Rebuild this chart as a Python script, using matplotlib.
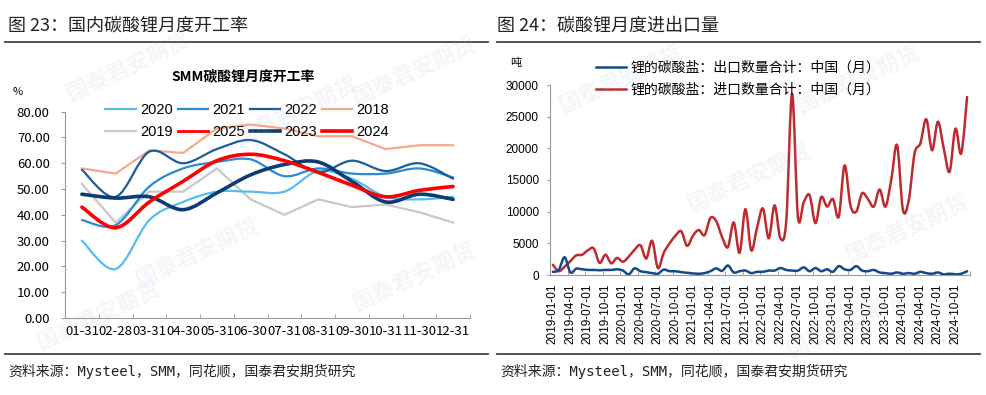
import matplotlib
matplotlib.use("Agg")
import matplotlib.pyplot as plt
from matplotlib.path import Path
from matplotlib.patches import PathPatch
from matplotlib.lines import Line2D
import pandas as pd

plt.rcParams['font.family'] = ['Noto Sans CJK SC', 'DejaVu Sans']

# ---- left chart: monthly operating rate (%)
cats = ["01-31", "02-28", "03-31", "04-30", "05-31", "06-30",
        "07-31", "08-31", "09-30", "10-31", "11-30", "12-31"]
r2018 = [58, 56, 65, 64, 73.5, 75, 73.5, 70.5, 70.5, 65.5, 67, 67]
r2019 = [52, 37, 49, 49, 58, 46, 40, 46, 43, 44, 41, 37]
r2020 = [30, 19, 38, 45, 49, 49, 49, 57, 54, 47, 46, 47]
r2021 = [38, 36, 51, 58, 60.5, 61.5, 55, 58, 56, 56, 58, 54.5]
r2022 = [57.5, 47, 64.5, 60, 65.5, 69, 63.5, 56.5, 61, 57, 60, 54]
r2023 = [48, 46.5, 47, 42, 48.5, 55.5, 59.5, 60.5, 53, 45, 48, 46]
r2024 = [43, 35, 45, 53, 61, 63.5, 61, 56.5, 51.5, 47, 49.5, 51]
r2025 = []

# ---- right chart: lithium carbonate export / import (t), 2019-01 .. 2024-12
export_t = [500, 800, 2800, 400, 1000, 900, 800, 800, 750, 800, 800, 900,
            700, 100, 1050, 600, 450, 300, 200, 850, 600, 600, 450, 350,
            250, 200, 300, 600, 1050, 650, 1500, 400, 600, 700, 300, 500,
            500, 700, 700, 1100, 800, 700, 700, 1200, 600, 1100, 600, 900,
            500, 1400, 900, 800, 1400, 700, 600, 800, 400, 300, 200, 400,
            200, 300, 200, 500, 300, 200, 400, 100, 200, 100, 200, 600]
import_t = [1600, 600, 1300, 2200, 3100, 3200, 3900, 4200, 1900, 3200, 1850, 2700,
            2100, 2900, 4000, 4700, 2600, 5400, 1100, 3500, 5000, 6200, 6900, 4600,
            6200, 7100, 6300, 9000, 8500, 6000, 4400, 8300, 3500, 10400, 3900, 7500,
            10500, 5800, 11000, 5800, 8500, 28600, 9200, 11500, 12600, 8200, 12300, 10800,
            12000, 9200, 17300, 11000, 10000, 12900, 12000, 10800, 13500, 10800, 15000, 20500,
            10300, 11800, 19200, 20800, 24600, 19700, 24200, 20000, 16300, 23100, 19200, 28100]
months = pd.date_range("2019-01-01", periods=len(import_t), freq="MS")


def smooth(ax, y, color, lw, z):
    # excel-like smoothed line as cubic bezier through the points
    x = list(range(len(y)))
    n = len(y)
    verts = [(x[0], y[0])]
    codes = [Path.MOVETO]
    for i in range(n - 1):
        a = max(i - 1, 0)
        b = min(i + 2, n - 1)
        c1 = (x[i] + (x[i + 1] - x[a]) / 6, y[i] + (y[i + 1] - y[a]) / 6)
        c2 = (x[i + 1] - (x[b] - x[i]) / 6, y[i + 1] - (y[b] - y[i]) / 6)
        verts += [c1, c2, (x[i + 1], y[i + 1])]
        codes += [Path.CURVE4] * 3
    ax.add_patch(PathPatch(Path(verts, codes), fill=False, edgecolor=color,
                           lw=lw, capstyle='round', joinstyle='round', zorder=z))


fig = plt.figure(figsize=(9.86, 3.95), dpi=100)

# faint watermarks
for (wx, wy) in [(0.13, 0.83), (0.3, 0.72), (0.42, 0.82), (0.2, 0.36), (0.42, 0.3),
                 (0.63, 0.8), (0.76, 0.55), (0.87, 0.8), (0.92, 0.42), (0.68, 0.22),
                 (0.86, 0.18), (0.1, 0.2)]:
    fig.text(wx, wy, "国泰君安期货", fontsize=16, color="#9db4cc", alpha=0.12,
             rotation=25, ha='center', va='center', fontweight='bold')

# headers and rules
fig.text(8 / 986, 1 - 26 / 395, "图 23：国内碳酸锂月度开工率", fontsize=13, va='center', color="#222222")
fig.text(497 / 986, 1 - 26 / 395, "图 24：碳酸锂月度进出口量", fontsize=13, va='center', color="#222222")
for x0, x1 in [(5, 488), (497, 980)]:
    fig.add_artist(Line2D([x0 / 986, x1 / 986], [1 - 42 / 395] * 2, color="#444444", lw=1.3))
    fig.add_artist(Line2D([x0 / 986, x1 / 986], [1 - 354 / 395] * 2, color="#444444", lw=1.3))
src = "资料来源：Mysteel，SMM，同花顺，国泰君安期货研究"
fig.text(8 / 986, 1 - 371 / 395, src, fontsize=10, va='center', color="#222222",
         family=['DejaVu Sans Mono', 'Noto Sans CJK SC'])
fig.text(500 / 986, 1 - 371 / 395, src, fontsize=10, va='center', color="#222222",
         family=['DejaVu Sans Mono', 'Noto Sans CJK SC'])

# ---- left
ax = fig.add_axes([65 / 986, 1 - 318 / 395, 405 / 986, (318 - 111.7) / 395])
ax.plot(range(12), r2018, color="#F4AA8A", lw=1.6, zorder=2)
ax.plot(range(12), r2019, color="#C8C8C8", lw=1.6, zorder=2)
smooth(ax, r2020, "#55BDEE", 1.6, 3)
smooth(ax, r2021, "#2A8AD4", 1.6, 3)
smooth(ax, r2022, "#1B5C99", 1.6, 3)
smooth(ax, r2023, "#0B3C74", 2.6, 4)
smooth(ax, r2024, "#FF0000", 2.6, 5)
ax.set_xlim(-0.5, 11.5)
ax.set_ylim(0, 80)
ax.set_yticks(range(0, 81, 10))
ax.set_yticklabels([f"{v:.2f}" for v in range(0, 81, 10)], fontsize=9.5)
ax.set_xticks(range(12))
ax.set_xticklabels(cats, fontsize=9.5)
ax.set_xticks([i - 0.5 for i in range(13)], minor=True)
ax.tick_params(axis='x', which='major', length=0, pad=5)
ax.tick_params(axis='x', which='minor', length=3, direction='in', color="#999999")
ax.tick_params(axis='y', length=3, color="#999999", pad=8)
for s in ['top', 'right']:
    ax.spines[s].set_visible(False)
for s in ['left', 'bottom']:
    ax.spines[s].set_color("#999999")
ax.set_title("SMM碳酸锂月度开工率", fontsize=10, fontweight='bold', x=0.44, y=1.11)
fig.text(18 / 986, 1 - 92 / 395, "%", fontsize=8, ha='center', va='center')

hdl = {
    "2020": Line2D([], [], color="#55BDEE", lw=1.6),
    "2021": Line2D([], [], color="#2A8AD4", lw=1.6),
    "2022": Line2D([], [], color="#1B5C99", lw=1.6),
    "2018": Line2D([], [], color="#F4AA8A", lw=1.6),
    "2019": Line2D([], [], color="#C8C8C8", lw=1.6),
    "2025": Line2D([], [], color="#FF0000", lw=2.0),
    "2023": Line2D([], [], color="#0B3C74", lw=2.6),
    "2024": Line2D([], [], color="#FF0000", lw=2.6),
}
order = ["2020", "2019", "2021", "2025", "2022", "2023", "2018", "2024"]
ax.legend([hdl[k] for k in order], order, ncol=4, loc='center',
          bbox_to_anchor=(247 / 986, 1 - 121 / 395), bbox_transform=fig.transFigure,
          frameon=False, handlelength=2.1, handletextpad=0.25,
          columnspacing=0.35, labelspacing=0.55,
          prop={'family': ['Liberation Sans', 'DejaVu Sans'], 'size': 10.5})

# ---- right
bx = fig.add_axes([550 / 986, 1 - 275 / 395, 420 / 986, 190 / 395])
smooth(bx, import_t, "#BE2A2E", 1.8, 3)
smooth(bx, export_t, "#154A86", 1.8, 4)
bx.set_xlim(-0.5, len(import_t) - 0.5)
bx.set_ylim(0, 30000)
bx.set_yticks(range(0, 30001, 5000))
bx.tick_params(axis='y', labelsize=8.5, length=2, color="#999999", pad=6)
for t in bx.get_yticklabels():
    t.set_family(['Liberation Sans', 'DejaVu Sans'])
qi = list(range(0, len(months), 3))
bx.set_xticks(qi)
bx.set_xticklabels([months[i].strftime("%Y-%m-%d") for i in qi], rotation=90,
                   fontsize=8.5, family=['Liberation Sans', 'DejaVu Sans'])
bx.set_xticks([i - 0.5 for i in qi] + [len(months) - 0.5], minor=True)
bx.tick_params(axis='x', which='major', length=0, pad=6)
bx.tick_params(axis='x', which='minor', length=3, direction='in', color="#999999")
for s in ['top', 'right']:
    bx.spines[s].set_visible(False)
for s in ['left', 'bottom']:
    bx.spines[s].set_color("#999999")
fig.text(516 / 986, 1 - 63 / 395, "吨", fontsize=8, ha='center', va='center')
bx.legend([Line2D([], [], color="#154A86", lw=1.8), Line2D([], [], color="#BE2A2E", lw=1.8)],
          ["锂的碳酸盐：出口数量合计：中国（月）", "锂的碳酸盐：进口数量合计：中国（月）"],
          loc='upper left', bbox_to_anchor=(583 / 986, 1 - 48 / 395), bbox_transform=fig.transFigure,
          frameon=False, fontsize=10, handlelength=2.2, handletextpad=0.3, labelspacing=0.6)

fig.savefig("out.png", dpi=100)
